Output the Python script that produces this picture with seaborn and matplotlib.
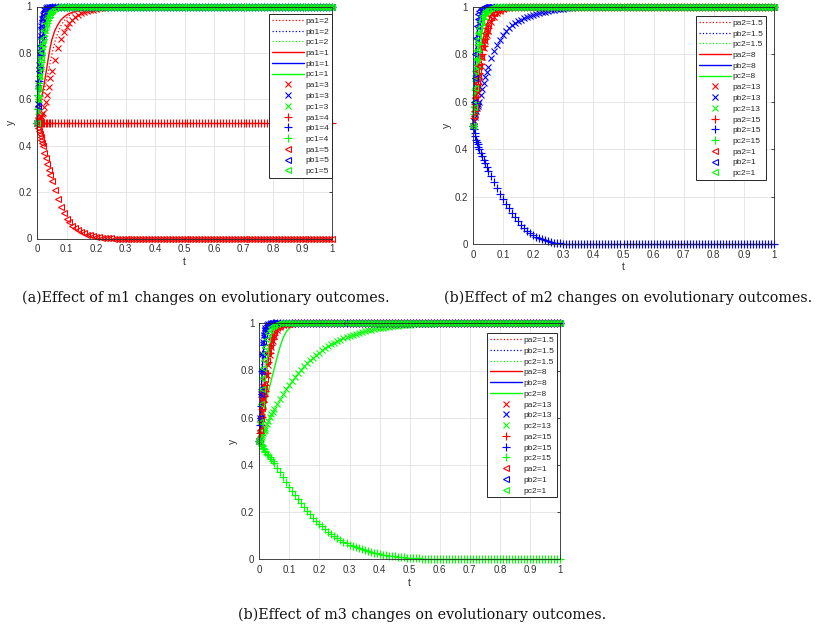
import matplotlib
matplotlib.use("Agg")
import matplotlib.pyplot as plt
import seaborn as sns

# ---------------- shared time grid ----------------
T_EARLY = [0, 0.0025, 0.005, 0.0075, 0.01, 0.0125, 0.015, 0.0175, 0.02,
           0.025, 0.03, 0.035, 0.04, 0.045, 0.05, 0.06, 0.07, 0.08, 0.09]
T_LATE = [round(0.10 + 0.01 * i, 2) for i in range(91)]
T = T_EARLY + T_LATE

# ---------------- (a) m1 ----------------
A_PA_DOT = [0.5, 0.51, 0.52, 0.535, 0.55, 0.565, 0.58, 0.595, 0.61, 0.64, 0.67, 0.70, 0.73, 0.76, 0.79, 0.845, 0.885, 0.915, 0.935,
            0.95, 0.962, 0.971, 0.978, 0.984, 0.988, 0.991, 0.994, 0.996, 0.998, 0.999, 1.0]
A_PB_DOT = [0.5, 0.57, 0.64, 0.71, 0.77, 0.82, 0.86, 0.895, 0.92, 0.955, 0.975, 0.987, 0.993, 0.997, 0.999, 1.0]
A_PC_DOT = [0.5, 0.53, 0.56, 0.59, 0.62, 0.65, 0.68, 0.71, 0.74, 0.79, 0.83, 0.865, 0.895, 0.92, 0.94, 0.965, 0.98, 0.99, 0.995, 0.998, 1.0]
A_PA_SOL = [0.5, 0.52, 0.54, 0.56, 0.58, 0.595, 0.605, 0.62, 0.635, 0.67, 0.71, 0.75, 0.79, 0.825, 0.855, 0.895, 0.92, 0.94, 0.953,
            0.963, 0.97, 0.975, 0.978, 0.982, 0.985, 0.988, 0.991, 0.994, 0.996, 0.998, 0.999, 1.0]
A_PB_SOL = [0.5, 0.6, 0.7, 0.8, 0.87, 0.92, 0.95, 0.97, 0.982, 0.993, 0.997, 0.999, 1.0]
A_PC_SOL = [0.5, 0.54, 0.59, 0.64, 0.69, 0.73, 0.77, 0.80, 0.83, 0.875, 0.91, 0.935, 0.955, 0.968, 0.978, 0.99, 0.995, 0.998, 0.999, 1.0]
A_PA_X = [0.5, 0.505, 0.51, 0.515, 0.52, 0.525, 0.53, 0.535, 0.54, 0.565, 0.59, 0.62, 0.655, 0.69, 0.72, 0.77, 0.82, 0.86, 0.89,
          0.91, 0.928, 0.943, 0.955, 0.964, 0.971, 0.976, 0.98, 0.984, 0.987, 0.99, 0.992, 0.994, 0.995, 0.996, 0.997, 0.998,
          0.998, 0.999, 0.999, 1.0]
A_PB_X = [0.5, 0.58, 0.67, 0.75, 0.82, 0.875, 0.915, 0.945, 0.965, 0.985, 0.994, 0.998, 1.0]
A_PC_X = [0.5, 0.55, 0.6, 0.65, 0.7, 0.745, 0.78, 0.81, 0.84, 0.885, 0.92, 0.945, 0.962, 0.975, 0.984, 0.993, 0.997, 0.999, 1.0]
A_PA_PLUS = [0.5]
A_PB_PLUS = [0.5, 0.56, 0.62, 0.68, 0.74, 0.79, 0.835, 0.87, 0.9, 0.94, 0.965, 0.98, 0.99, 0.995, 0.998, 1.0]
A_PC_PLUS = [0.5, 0.56, 0.62, 0.67, 0.72, 0.76, 0.80, 0.83, 0.86, 0.9, 0.93, 0.95, 0.965, 0.976, 0.984, 0.993, 0.997, 0.999, 1.0]
A_PA_TRI = [0.5, 0.49, 0.475, 0.462, 0.45, 0.437, 0.424, 0.41, 0.397, 0.37, 0.345, 0.32, 0.295, 0.272, 0.25, 0.21, 0.17, 0.135, 0.108,
            0.086, 0.069, 0.055, 0.044, 0.035, 0.028, 0.022, 0.017, 0.013, 0.010, 0.008, 0.006, 0.004, 0.003, 0.002, 0.001, 0.0]
A_PB_TRI = [0.5, 0.57, 0.65, 0.72, 0.8, 0.87, 0.91, 0.94, 0.96, 0.982, 0.992, 0.997, 0.999, 1.0]
A_PC_TRI = [0.5, 0.6, 0.65, 0.7, 0.74, 0.78, 0.81, 0.84, 0.865, 0.9, 0.93, 0.95, 0.965, 0.976, 0.984, 0.993, 0.997, 0.999, 1.0]
A_LABELS = ["pa1=2", "pb1=2", "pc1=2", "pa1=1", "pb1=1", "pc1=1", "pa1=3", "pb1=3", "pc1=3",
            "pa1=4", "pb1=4", "pc1=4", "pa1=5", "pb1=5", "pc1=5"]

# ---------------- (b) m2 ----------------
B_PA_DOT = [0.5, 0.53, 0.57, 0.61, 0.64, 0.665, 0.69, 0.715, 0.735, 0.775, 0.815, 0.85, 0.88, 0.905, 0.925, 0.955, 0.972, 0.983, 0.99,
            0.994, 0.997, 0.999, 1.0]
B_PB_DOT = [0.5, 0.6, 0.7, 0.79, 0.86, 0.91, 0.945, 0.965, 0.978, 0.991, 0.996, 0.999, 1.0]
B_PC_DOT = [0.5, 0.56, 0.62, 0.67, 0.72, 0.76, 0.80, 0.83, 0.86, 0.9, 0.93, 0.95, 0.965, 0.976, 0.984, 0.993, 0.997, 0.999, 1.0]
B_PA_SOL = [0.5, 0.54, 0.58, 0.62, 0.655, 0.685, 0.71, 0.735, 0.76, 0.8, 0.84, 0.87, 0.9, 0.92, 0.94, 0.965, 0.98, 0.988, 0.993,
            0.996, 0.998, 0.999, 1.0]
B_PB_SOL = [0.5, 0.58, 0.66, 0.74, 0.81, 0.86, 0.9, 0.93, 0.95, 0.975, 0.988, 0.995, 0.998, 1.0]
B_PC_SOL = [0.5, 0.55, 0.6, 0.65, 0.7, 0.74, 0.78, 0.81, 0.84, 0.885, 0.92, 0.945, 0.962, 0.975, 0.984, 0.993, 0.997, 0.999, 1.0]
B_PA_X = [0.5, 0.52, 0.55, 0.58, 0.61, 0.64, 0.665, 0.69, 0.71, 0.75, 0.79, 0.825, 0.855, 0.88, 0.9, 0.935, 0.958, 0.973, 0.983,
          0.99, 0.994, 0.997, 0.999, 1.0]
B_PB_X = [0.5, 0.52, 0.535, 0.55, 0.563, 0.573, 0.583, 0.592, 0.60, 0.627, 0.655, 0.68, 0.705, 0.727, 0.748, 0.785, 0.815, 0.84, 0.862,
          0.88, 0.897, 0.91, 0.922, 0.932, 0.94, 0.947, 0.953, 0.959, 0.964, 0.968, 0.972, 0.975, 0.978, 0.981, 0.984,
          0.986, 0.988, 0.99, 0.992, 0.993, 0.995, 0.996, 0.997, 0.998, 0.999, 1.0]
B_PC_X = [0.5, 0.57, 0.64, 0.7, 0.75, 0.79, 0.83, 0.86, 0.885, 0.92, 0.945, 0.962, 0.975, 0.984, 0.99, 0.996, 0.999, 1.0]
B_PA_PLUS = [0.5, 0.53, 0.56, 0.59, 0.62, 0.65, 0.675, 0.7, 0.72, 0.76, 0.8, 0.835, 0.865, 0.89, 0.91, 0.945, 0.965, 0.978, 0.986,
             0.992, 0.995, 0.998, 1.0]
B_PB_PLUS = [0.5, 0.485, 0.47, 0.455, 0.44, 0.43, 0.42, 0.41, 0.4, 0.385, 0.37, 0.355, 0.34, 0.325, 0.31, 0.285, 0.26, 0.235, 0.212,
             0.19, 0.17, 0.15, 0.13, 0.112, 0.096, 0.082, 0.068, 0.056, 0.046, 0.037, 0.03, 0.024, 0.019, 0.015, 0.011,
             0.008, 0.006, 0.004, 0.003, 0.002, 0.001, 0.0]
B_PC_PLUS = [0.5, 0.55, 0.6, 0.65, 0.7, 0.745, 0.78, 0.815, 0.845, 0.89, 0.925, 0.95, 0.966, 0.977, 0.985, 0.994, 0.998, 1.0]
B_PA_TRI = [0.5, 0.54, 0.58, 0.615, 0.65, 0.68, 0.705, 0.73, 0.75, 0.79, 0.83, 0.86, 0.89, 0.912, 0.93, 0.96, 0.976, 0.986, 0.992,
            0.995, 0.998, 1.0]
B_PB_TRI = [0.5, 0.6, 0.7, 0.8, 0.87, 0.92, 0.95, 0.97, 0.982, 0.993, 0.997, 0.999, 1.0]
B_PC_TRI = [0.5, 0.58, 0.66, 0.73, 0.78, 0.82, 0.86, 0.89, 0.91, 0.94, 0.96, 0.973, 0.982, 0.988, 0.992, 0.997, 0.999, 1.0]
B_LABELS = ["pa2=1.5", "pb2=1.5", "pc2=1.5", "pa2=8", "pb2=8", "pc2=8", "pa2=13", "pb2=13", "pc2=13",
            "pa2=15", "pb2=15", "pc2=15", "pa2=1", "pb2=1", "pc2=1"]

# ---------------- (c) m3 ----------------
C_PA_DOT = [0.5, 0.54, 0.58, 0.615, 0.645, 0.675, 0.70, 0.725, 0.75, 0.80, 0.85, 0.89, 0.92, 0.945, 0.96, 0.978, 0.988, 0.994, 0.997,
            0.999, 1.0]
C_PB_DOT = [0.5, 0.6, 0.7, 0.79, 0.86, 0.91, 0.945, 0.965, 0.978, 0.991, 0.996, 0.999, 1.0]
C_PC_DOT = [0.5, 0.55, 0.6, 0.65, 0.7, 0.74, 0.78, 0.81, 0.84, 0.885, 0.92, 0.945, 0.962, 0.975, 0.984, 0.993, 0.997, 0.999, 1.0]
C_PA_SOL = [0.5, 0.55, 0.6, 0.64, 0.675, 0.705, 0.73, 0.755, 0.78, 0.83, 0.87, 0.905, 0.93, 0.95, 0.965, 0.982, 0.991, 0.996, 0.998,
            0.999, 1.0]
C_PB_SOL = [0.5, 0.58, 0.66, 0.74, 0.81, 0.86, 0.9, 0.93, 0.95, 0.975, 0.988, 0.995, 0.998, 1.0]
C_PC_SOL = [0.5, 0.52, 0.54, 0.56, 0.58, 0.60, 0.62, 0.64, 0.655, 0.685, 0.71, 0.735, 0.76, 0.785, 0.81, 0.86, 0.905, 0.94, 0.965,
            0.98, 0.99, 0.995, 0.998, 1.0]
C_PA_X = [0.5, 0.53, 0.56, 0.595, 0.625, 0.655, 0.68, 0.705, 0.73, 0.78, 0.825, 0.865, 0.9, 0.925, 0.945, 0.97, 0.984, 0.992, 0.996,
          0.998, 0.999, 1.0]
C_PB_X = [0.5, 0.6, 0.7, 0.8, 0.87, 0.92, 0.95, 0.97, 0.982, 0.993, 0.997, 0.999, 1.0]
C_PC_X = [0.5, 0.505, 0.512, 0.52, 0.528, 0.535, 0.542, 0.55, 0.557, 0.572, 0.587, 0.601, 0.614, 0.626, 0.638, 0.66, 0.68, 0.70, 0.72,
          0.738, 0.756, 0.773, 0.789, 0.804, 0.818, 0.831, 0.843, 0.855, 0.866, 0.876, 0.886, 0.895, 0.903, 0.911, 0.918,
          0.925, 0.931, 0.937, 0.942, 0.947, 0.952, 0.956, 0.96, 0.964, 0.967, 0.97, 0.973, 0.976, 0.978, 0.98,
          0.982, 0.984, 0.986, 0.988, 0.989, 0.99, 0.991, 0.992, 0.993, 0.994, 0.995, 0.996, 0.997, 0.997, 0.998,
          0.998, 0.999, 0.999, 1.0]
C_PA_PLUS = [0.5, 0.535, 0.57, 0.605, 0.635, 0.665, 0.69, 0.715, 0.74, 0.79, 0.835, 0.875, 0.91, 0.935, 0.952, 0.974, 0.986, 0.993, 0.997,
             0.999, 1.0]
C_PB_PLUS = [0.5, 0.57, 0.65, 0.72, 0.8, 0.87, 0.91, 0.94, 0.96, 0.982, 0.992, 0.997, 0.999, 1.0]
C_PC_PLUS = [0.5, 0.495, 0.49, 0.484, 0.478, 0.472, 0.466, 0.46, 0.455, 0.447, 0.44, 0.433, 0.425, 0.416, 0.407, 0.388, 0.368, 0.347, 0.326,
             0.307, 0.29, 0.272, 0.255, 0.238, 0.222, 0.206, 0.191, 0.177, 0.164, 0.151, 0.139, 0.128, 0.117, 0.107, 0.098,
             0.09, 0.082, 0.075, 0.068, 0.062, 0.056, 0.051, 0.046, 0.042, 0.038, 0.034, 0.031, 0.028, 0.025, 0.022,
             0.02, 0.018, 0.016, 0.014, 0.012, 0.011, 0.01, 0.008, 0.007, 0.006, 0.005, 0.004, 0.004, 0.003, 0.003,
             0.002, 0.002, 0.001, 0.001, 0.001, 0.0]
C_PA_TRI = [0.5, 0.55, 0.6, 0.64, 0.68, 0.71, 0.74, 0.765, 0.79, 0.84, 0.88, 0.91, 0.935, 0.955, 0.968, 0.984, 0.992, 0.996, 0.998,
            0.999, 1.0]
C_PB_TRI = [0.5, 0.6, 0.7, 0.8, 0.87, 0.92, 0.95, 0.97, 0.982, 0.993, 0.997, 0.999, 1.0]
C_PC_TRI = [0.5, 0.58, 0.66, 0.72, 0.77, 0.81, 0.845, 0.875, 0.9, 0.935, 0.958, 0.973, 0.983, 0.99, 0.994, 0.998, 1.0]
C_LABELS = B_LABELS

CAPTIONS = ["(a)Effect of m1 changes on evolutionary outcomes.",
            "(b)Effect of m2 changes on evolutionary outcomes.",
            "(b)Effect of m3 changes on evolutionary outcomes."]
X_TICKS = [0, 0.1, 0.2, 0.3, 0.4, 0.5, 0.6, 0.7, 0.8, 0.9, 1]
X_TICKLABELS = ["0", "0.1", "0.2", "0.3", "0.4", "0.5", "0.6", "0.7", "0.8", "0.9", "1"]
Y_TICKS = [0, 0.2, 0.4, 0.6, 0.8, 1]
Y_TICKLABELS = ["0", "0.2", "0.4", "0.6", "0.8", "1"]

PANELS = [
    [A_PA_DOT, A_PB_DOT, A_PC_DOT, A_PA_SOL, A_PB_SOL, A_PC_SOL, A_PA_X, A_PB_X, A_PC_X,
     A_PA_PLUS, A_PB_PLUS, A_PC_PLUS, A_PA_TRI, A_PB_TRI, A_PC_TRI],
    [B_PA_DOT, B_PB_DOT, B_PC_DOT, B_PA_SOL, B_PB_SOL, B_PC_SOL, B_PA_X, B_PB_X, B_PC_X,
     B_PA_PLUS, B_PB_PLUS, B_PC_PLUS, B_PA_TRI, B_PB_TRI, B_PC_TRI],
    [C_PA_DOT, C_PB_DOT, C_PC_DOT, C_PA_SOL, C_PB_SOL, C_PC_SOL, C_PA_X, C_PB_X, C_PC_X,
     C_PA_PLUS, C_PB_PLUS, C_PC_PLUS, C_PA_TRI, C_PB_TRI, C_PC_TRI],
]
LABELS = [A_LABELS, B_LABELS, C_LABELS]


def hold(vals):
    """values read until the curve settles; it then stays at its last value"""
    return list(vals) + [vals[-1]] * (len(T) - len(vals))


# ---------------- figure ----------------
sns.set_style("white")
plt.rcParams["font.family"] = ["Liberation Sans", "DejaVu Sans"]

W, H = 817, 634
fig = plt.figure(figsize=(W / 100, H / 100), dpi=100)

# axes boxes in pixels: left, top, right, bottom
BOXES = [(37, 6.5, 332, 238.5), (473, 7, 774, 244), (259.3, 323.3, 560, 559.3)]
LEG_ANCHOR = [(331.7, 14), (765.7, 16), (556.7, 333.3)]
CAP_POS = [(206, 298), (628, 298), (422, 615)]

COLORS = ["#ff0000", "#0000ff", "#00ff00"]
STYLES = [dict(linestyle=":", linewidth=0.9, marker=None),
          dict(linestyle="-", linewidth=1.0, marker=None),
          dict(linestyle="none", marker="x", markersize=4.4, markeredgewidth=0.8),
          dict(linestyle="none", marker="+", markersize=5.4, markeredgewidth=0.85),
          dict(linestyle="none", marker="<", markersize=4.7, markeredgewidth=0.8,
               markerfacecolor="none")]
DARK = "#262626"

for p, (l, t, r, b) in enumerate(BOXES):
    ax = fig.add_axes([l / W, 1 - b / H, (r - l) / W, (b - t) / H])
    series = PANELS[p]
    for k, vals in enumerate(series):
        col = COLORS[k % 3]
        st = dict(STYLES[k // 3])
        if st.get("marker"):
            st["markeredgecolor"] = col
        sns.lineplot(x=T, y=hold(vals), ax=ax, color=col, estimator=None, sort=False,
                     clip_on=False, **st)
    ax.set_xlim(0, 1)
    ax.set_ylim(0, 1)
    ax.set_xticks(X_TICKS)
    ax.set_xticklabels(X_TICKLABELS)
    ax.set_yticks(Y_TICKS)
    ax.set_yticklabels(Y_TICKLABELS)
    ax.grid(True, color="#e3e3e3", linewidth=0.6)
    ax.set_axisbelow(True)
    ax.tick_params(direction="in", length=2.5, width=0.6, colors=DARK, labelsize=7,
                   top=True, right=True)
    ax.tick_params(axis="x", pad=4)
    ax.tick_params(axis="y", pad=3.5)
    for lab in ax.get_xticklabels() + ax.get_yticklabels():
        lab.set_color("#333333")
    for s in ax.spines.values():
        s.set_color(DARK)
        s.set_linewidth(0.6)
    ax.set_xlabel("t", fontsize=7.5, color="#333333", labelpad=2)
    ax.set_ylabel("y", fontsize=7.5, color="#333333", labelpad=2)

    lx, ly = LEG_ANCHOR[p]
    ax_x = (lx - l) / (r - l)
    ax_y = (b - ly) / (b - t)
    handles = ax.get_lines()[:15]
    leg = ax.legend(handles, LABELS[p], loc="upper right", bbox_to_anchor=(ax_x, ax_y),
                    borderaxespad=0, fontsize=6, numpoints=1, handlelength=3.8,
                    handletextpad=0.15, labelspacing=0.35, borderpad=0.35,
                    fancybox=False, framealpha=1, edgecolor=DARK)
    leg.get_frame().set_linewidth(0.7)
    for txt in leg.get_texts():
        txt.set_color(DARK)

    cx, cy = CAP_POS[p]
    fig.text(cx / W, 1 - cy / H, CAPTIONS[p], ha="center", va="center",
             fontsize=10.3, family="DejaVu Serif", color="#111111")

fig.savefig("out.png", dpi=100)
